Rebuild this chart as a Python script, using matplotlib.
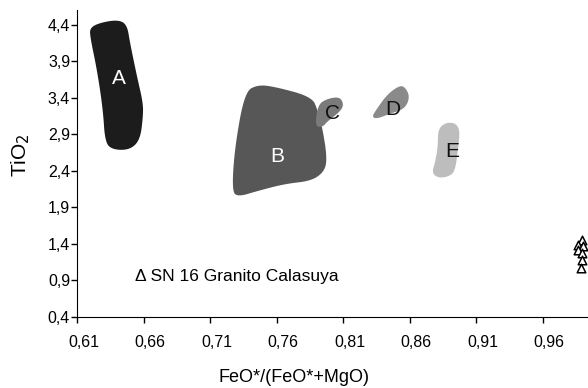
import matplotlib
matplotlib.use("Agg")
import matplotlib.pyplot as plt
from matplotlib.patches import Polygon
from matplotlib.transforms import ScaledTranslation
import numpy as np

plt.rcParams['font.family'] = ['Liberation Sans', 'DejaVu Sans']

# Campos composicionales (contornos FeO*/(FeO*+MgO), TiO2)
campo_A_x = [0.6198, 0.6273, 0.6408, 0.6476, 0.6498, 0.6551, 0.6596, 0.6596, 0.6574, 0.6498, 0.6371, 0.6311, 0.6295, 0.6250, 0.6198]
campo_A_y = [4.359, 4.427, 4.468, 4.400, 4.153, 3.688, 3.332, 3.140, 2.825, 2.688, 2.688, 2.784, 3.236, 3.784, 4.236]

campo_B_x = [0.7264, 0.7286, 0.7361, 0.7459, 0.7587, 0.7865, 0.7910, 0.7948, 0.7978, 0.7963, 0.7865, 0.7662, 0.7459, 0.7309]
campo_B_y = [2.126, 2.729, 3.482, 3.578, 3.551, 3.414, 3.222, 2.948, 2.592, 2.400, 2.263, 2.222, 2.126, 2.044]

campo_C_x = [0.7888, 0.7910, 0.7978, 0.8075, 0.8105, 0.8075, 0.7978, 0.7948]
campo_C_y = [3.003, 3.304, 3.386, 3.414, 3.304, 3.208, 3.071, 3.003]

campo_D_x = [0.8316, 0.8353, 0.8429, 0.8519, 0.8564, 0.8602, 0.8564, 0.8451, 0.8353]
campo_D_y = [3.140, 3.249, 3.441, 3.564, 3.551, 3.414, 3.249, 3.181, 3.112]

campo_E_x = [0.8767, 0.8790, 0.8812, 0.8812, 0.8865, 0.8940, 0.8978, 0.8963, 0.8940, 0.8887, 0.8812]
campo_E_y = [2.373, 2.510, 2.729, 2.962, 3.058, 3.058, 2.962, 2.688, 2.387, 2.318, 2.304]

# nombre: (contorno x, contorno y, relleno, color de la letra, posicion de la letra)
campos = {
    'A': (campo_A_x, campo_A_y, '#1c1c1c', 'white', 0.6416, 3.67),
    'B': (campo_B_x, campo_B_y, '#575757', 'white', 0.7608, 2.59),
    'C': (campo_C_x, campo_C_y, '#7a7a7a', '#111111', 0.8017, 3.19),
    'D': (campo_D_x, campo_D_y, '#8a8a8a', '#111111', 0.8476, 3.24),
    'E': (campo_E_x, campo_E_y, '#bdbdbd', '#111111', 0.8920, 2.67),
}

# Muestras SN 16 Granito Calasuya
sn16_x = [0.9897, 0.9867, 0.9905, 0.9867, 0.9897, 0.9897, 0.9890]
sn16_y = [1.455, 1.386, 1.373, 1.318, 1.277, 1.181, 1.071]

xticks = [0.61, 0.66, 0.71, 0.76, 0.81, 0.86, 0.91, 0.96]
yticks = [0.4, 0.9, 1.4, 1.9, 2.4, 2.9, 3.4, 3.9, 4.4]


# Suavizado de contornos por recorte de esquinas (Chaikin)
def Suavizar(x, y, iteraciones=3):
    pts = np.column_stack([x, y])
    for _ in range(iteraciones):
        sig = np.roll(pts, -1, axis=0)
        q = 0.75 * pts + 0.25 * sig
        r = 0.25 * pts + 0.75 * sig
        pts = np.empty((2 * len(q), 2))
        pts[0::2] = q
        pts[1::2] = r
    return pts


fig = plt.figure(figsize=(5.88, 3.88), dpi=100)
ax = fig.add_axes([0.131, 0.183, 0.869, 0.791])

for nombre, (cx, cy, relleno, ctexto, tx, ty) in campos.items():
    ax.add_patch(Polygon(Suavizar(cx, cy), closed=True, facecolor=relleno, edgecolor='none'))
    ax.text(tx, ty, nombre, color=ctexto, fontsize=15, ha='center', va='center')

ax.scatter(sn16_x, sn16_y, marker='^', s=38, facecolor='white', edgecolor='black', linewidth=1.1, zorder=3, clip_on=False)
ax.text(0.6536, 0.95, '\u0394 SN 16 Granito Calasuya', fontsize=12.5, va='center', ha='left')

ax.set_xlim(0.61, 0.994)
ax.set_ylim(0.4, 4.6)
ax.set_xticks(xticks)
ax.set_yticks(yticks)
ax.set_xticklabels([f'{v:.2f}'.replace('.', ',') for v in xticks], fontsize=11.5)
ax.set_yticklabels([f'{v:.1f}'.replace('.', ',') for v in yticks], fontsize=11.5)
ax.tick_params(direction='out', length=4, width=1, colors='black')
ax.tick_params(axis='x', pad=9)
ax.tick_params(axis='y', pad=1)

# Etiquetas del eje x algo corridas a la derecha de cada marca
desplazar = ScaledTranslation(0.065, 0, fig.dpi_scale_trans)
for etiqueta in ax.get_xticklabels():
    etiqueta.set_transform(etiqueta.get_transform() + desplazar)

ax.spines['top'].set_visible(False)
ax.spines['right'].set_visible(False)

ax.set_xlabel('FeO*/(FeO*+MgO)', fontsize=13)
ax.xaxis.set_label_coords(0.425, -0.168)
ax.set_ylabel('TiO$_2$', fontsize=15)
ax.yaxis.set_label_coords(-0.088, 0.528)

fig.savefig('out.png', dpi=100)
